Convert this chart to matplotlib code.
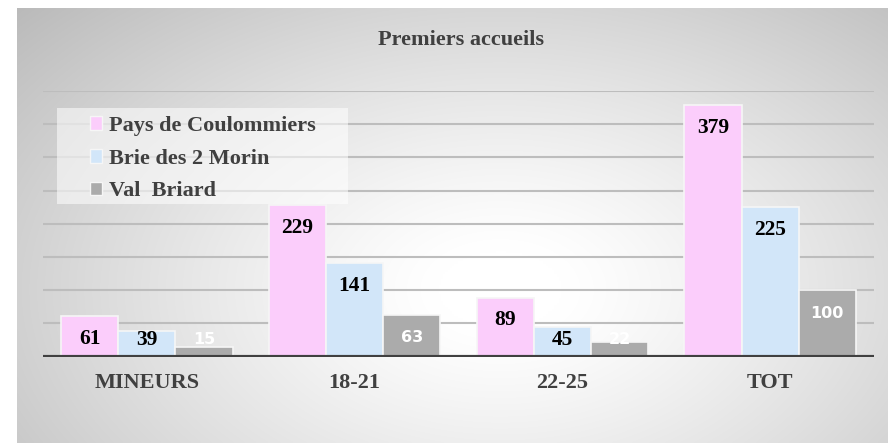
import numpy as np
import matplotlib
matplotlib.use("Agg")
import matplotlib.pyplot as plt
from matplotlib.patches import Patch, Rectangle

categories = ["MINEURS", "18-21", "22-25", "TOT"]
series_names = ["Pays de Coulommiers", "Brie des 2 Morin", "Val  Briard"]
pays = [61, 229, 89, 379]
brie = [39, 141, 45, 225]
val = [15, 63, 22, 100]
yticks = [0, 50, 100, 150, 200, 250, 300, 350, 400]

colors = ["#FBCDFB", "#D2E6F9", "#ABABAB"]
label_colors = ["#000000", "#000000", "#FFFFFF"]

W, H = 888, 443
fig = plt.figure(figsize=(W / 100, H / 100), dpi=100)
fig.patch.set_facecolor("white")

# background radial gradient panel
bg = fig.add_axes([17 / W, 0, (W - 17) / W, (H - 8) / H], zorder=0)
nx, ny = 400, 200
xx, yy = np.meshgrid(np.linspace(17, W, nx), np.linspace(8, H, ny))
cx, cy = 500, 290
r = np.sqrt(((xx - cx) / 520) ** 2 + ((yy - cy) / 330) ** 2)
shade = 1.0 - 0.23 * np.clip(r - 0.12, 0, 1.2) ** 1.2
shade = np.clip(shade, 0, 1)
img = np.dstack([shade, shade, shade])
bg.imshow(img, aspect="auto", extent=[0, 1, 0, 1], interpolation="bilinear")
bg.set_axis_off()

ax = fig.add_axes([43 / W, (H - 356.7) / H, (874 - 43) / W, (356.7 - 91) / H], zorder=1)
ax.set_facecolor("none")
ax.set_xlim(-0.5, 3.5)
ax.set_ylim(0, 400)
for s in ax.spines.values():
    s.set_visible(False)
ax.set_yticks(yticks)
ax.set_yticklabels([])
ax.tick_params(axis="both", length=0)
ax.grid(axis="y", color="#BDBDBD", linewidth=1.5, zorder=0)
ax.set_axisbelow(True)

x = np.arange(len(categories))
bw = 0.275
data = [pays, brie, val]
for i, (vals, c) in enumerate(zip(data, colors)):
    pos = x + (i - 1) * bw
    ax.bar(pos, vals, width=bw, color=c, edgecolor="#F6F6F6", linewidth=1.2, zorder=2,
           label=series_names[i])
    for p, v in zip(pos, vals):
        yc = max(v - 34.5, 25.8)
        if i < 2:
            ax.text(p, yc, str(v), ha="center", va="center", fontsize=15.5,
                    fontweight="bold", family="Liberation Serif", color=label_colors[i], zorder=4)
        else:
            ax.text(p, yc, str(v), ha="center", va="center", fontsize=11.5,
                    fontweight="bold", family="DejaVu Sans", color=label_colors[i], zorder=4)

ax.axhline(0, color="#404040", linewidth=3, zorder=3)

ax.set_xticks(x)
ax.set_xticklabels(categories, family="Liberation Serif", fontweight="bold",
                   fontsize=16, color="#404040")
ax.tick_params(axis="x", pad=12)

fig.text(461 / W, 1 - 40 / H, "Premiers accueils", ha="center", va="center",
         family="Liberation Serif", fontweight="bold", fontsize=16, color="#404040")

# legend box
fig.patches.append(Rectangle((57 / W, 1 - 204 / H), (348 - 57) / W, (204 - 108) / H,
                             transform=fig.transFigure, facecolor="white", alpha=0.55,
                             edgecolor="none", zorder=4))

handles = [Patch(facecolor=c, edgecolor="#F6F6F6") for c in colors]
leg = fig.legend(handles, series_names, loc="upper left",
                 bbox_to_anchor=(90 / W, 1 - 116 / H),
                 prop={"family": "Liberation Serif", "weight": "bold", "size": 16},
                 frameon=False, handlelength=0.55, handleheight=0.55,
                 handletextpad=0.3, labelspacing=0.57, borderpad=0,
                 borderaxespad=0)
for t in leg.get_texts():
    t.set_color("#404040")
leg.set_zorder(5)

fig.savefig("out.png", dpi=100)
